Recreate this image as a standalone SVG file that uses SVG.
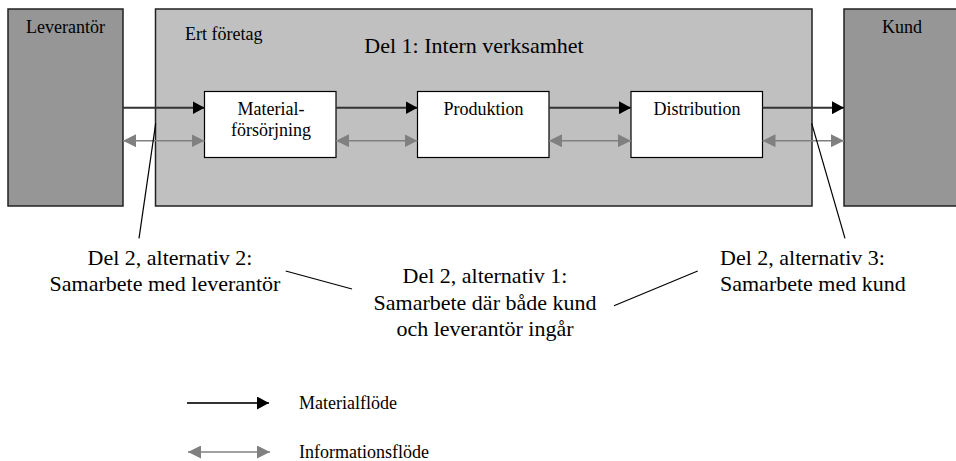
<svg xmlns="http://www.w3.org/2000/svg" width="956" height="461" viewBox="0 0 956 461">
<defs>
<marker id="mh" viewBox="0 0 12 13" refX="12" refY="6.5" markerWidth="12" markerHeight="13" markerUnits="userSpaceOnUse" orient="auto"><path d="M0,0 L12,6.5 L0,13 Z" fill="#000"/></marker>
<marker id="ih" viewBox="0 0 13 13" refX="13" refY="6.5" markerWidth="13" markerHeight="13" markerUnits="userSpaceOnUse" orient="auto-start-reverse"><path d="M0,0 L13,6.5 L0,13 Z" fill="#808080"/></marker>
</defs>
<style>
text{font-family:"Liberation Serif","Times New Roman",serif;fill:#000}
.ext{fill:#969696;stroke:#222;stroke-width:1.5}
.co{fill:#c0c0c0;stroke:#222;stroke-width:1.5}
.pr{fill:#fff;stroke:#000;stroke-width:1.2}
.lbl{font-size:18px}
.big{font-size:22px}
.mat{stroke:#333;stroke-width:2;fill:none;marker-end:url(#mh)}
.inf{stroke:#808080;stroke-width:1.6;fill:none;marker-end:url(#ih);marker-start:url(#ih)}
.lead{stroke:#000;stroke-width:1.2;fill:none}
</style>
<g id="leverantor"><rect class="ext" x="8" y="9" width="115" height="197"/><text class="lbl" x="26" y="33">Leverantör</text></g>
<g id="foretag"><rect class="co" x="155.5" y="9" width="656.5" height="197"/><text class="lbl" x="185" y="40">Ert företag</text><text class="big" x="474" y="53" text-anchor="middle">Del 1: Intern verksamhet</text></g>
<g id="kund"><rect class="ext" x="844" y="9" width="120" height="197"/><text class="lbl" x="902" y="33" text-anchor="middle">Kund</text></g>
<g id="materialforsorjning"><rect class="pr" x="204.5" y="91.5" width="131.5" height="66"/><text class="lbl" x="271" y="115" text-anchor="middle">Material-</text><text class="lbl" x="271" y="136" text-anchor="middle">försörjning</text></g>
<g id="produktion"><rect class="pr" x="417.5" y="91.5" width="131.5" height="66"/><text class="lbl" x="483.5" y="115" text-anchor="middle">Produktion</text></g>
<g id="distribution"><rect class="pr" x="631" y="91.5" width="131.5" height="66"/><text class="lbl" x="697" y="115" text-anchor="middle">Distribution</text></g>
<g id="connectors">
<line class="mat" x1="123" y1="107.7" x2="204.5" y2="107.7"/>
<line class="mat" x1="336" y1="107.7" x2="417.5" y2="107.7"/>
<line class="mat" x1="549" y1="107.7" x2="631" y2="107.7"/>
<line class="mat" x1="762.5" y1="107.7" x2="844" y2="107.7"/>
<line class="inf" x1="123" y1="140.7" x2="204.5" y2="140.7"/>
<line class="inf" x1="336" y1="140.7" x2="417.5" y2="140.7"/>
<line class="inf" x1="549" y1="140.7" x2="631" y2="140.7"/>
<line class="inf" x1="762.5" y1="140.7" x2="844" y2="140.7"/>
<line class="lead" x1="155.7" y1="123.3" x2="139" y2="238.3"/>
<line class="lead" x1="811.7" y1="123.3" x2="845" y2="238.3"/>
<line class="lead" x1="285.7" y1="271" x2="352" y2="289"/>
<line class="lead" x1="614" y1="305.7" x2="697.7" y2="271"/>
</g>
<g id="alt2"><text class="big" x="170" y="265" text-anchor="middle">Del 2, alternativ 2:</text><text class="big" x="165" y="291" text-anchor="middle">Samarbete med leverantör</text></g>
<g id="alt1"><text class="big" x="485" y="283" text-anchor="middle">Del 2, alternativ 1:</text><text class="big" x="485" y="310" text-anchor="middle">Samarbete där både kund</text><text class="big" x="485" y="336" text-anchor="middle">och leverantör ingår</text></g>
<g id="alt3"><text class="big" x="720" y="265">Del 2, alternativ 3:</text><text class="big" x="720" y="291">Samarbete med kund</text></g>
<g id="legend">
<line class="mat" x1="187" y1="403" x2="269" y2="403"/>
<line class="inf" x1="188" y1="452" x2="270" y2="452"/>
<text class="lbl" x="299" y="409">Materialflöde</text>
<text class="lbl" x="299" y="458">Informationsflöde</text>
</g>
</svg>
